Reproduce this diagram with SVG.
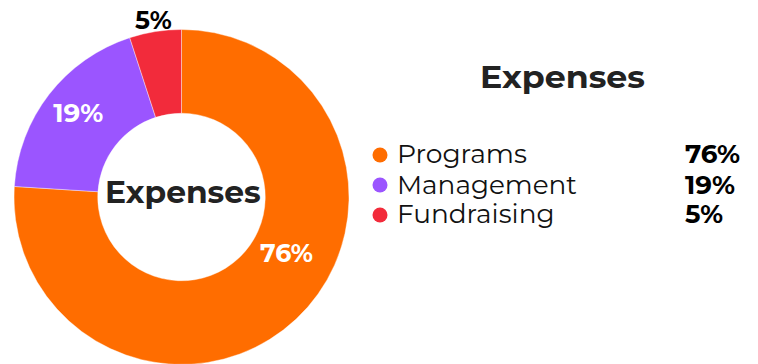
<svg xmlns="http://www.w3.org/2000/svg" width="758" height="364" viewBox="0 0 758 364">
<style>
.t{font-family:Montserrat,Inter,"Open Sans","Liberation Sans",sans-serif}
.b{font-weight:700}
.dark{fill:#222}
.blk{fill:#000}
.w{fill:#fff}
.lg{font-size:26px;font-weight:400;fill:#111}
.pc{font-size:25px;font-weight:700}
.sl{stroke:#fff;stroke-width:0.4}
</style>
<rect width="758" height="364" fill="#fff"/>
<g id="chart">
<g id="slice-programs"><path class="sl" fill="#FF6D00" d="M181.5,29.5 A167.5,167.5 0 1 1 14.33,186.48 L97.91,191.74 A83.75,83.75 0 1 0 181.5,113.25 Z"/></g>
<g id="slice-management"><path class="sl" fill="#9B55FF" d="M14.33,186.48 A167.5,167.5 0 0 1 129.74,37.70 L155.62,117.35 A83.75,83.75 0 0 0 97.91,191.74 Z"/></g>
<g id="slice-fundraising"><path class="sl" fill="#F22B3B" d="M129.74,37.70 A167.5,167.5 0 0 1 181.5,29.5 L181.5,113.25 A83.75,83.75 0 0 0 155.62,117.35 Z"/></g>
<text class="t pc w" x="260" y="262.3" textLength="53" lengthAdjust="spacingAndGlyphs">76%</text>
<text class="t pc w" x="53.3" y="121.7" textLength="50" lengthAdjust="spacingAndGlyphs">19%</text>
<text class="t pc blk" x="135" y="29.3" textLength="36.7" lengthAdjust="spacingAndGlyphs">5%</text>
<text class="t b dark" x="105" y="203.3" font-size="31" textLength="155.7" lengthAdjust="spacingAndGlyphs">Expenses</text>
</g>
<g id="legend">
<text class="t b dark" x="480" y="87.7" font-size="31" textLength="165" lengthAdjust="spacingAndGlyphs">Expenses</text>
<g id="legend-programs">
<circle cx="380" cy="155" r="7.5" fill="#FF6D00"/>
<text class="t lg" x="397" y="163.3" textLength="130" lengthAdjust="spacingAndGlyphs">Programs</text>
<text class="t pc blk" x="685" y="163.3" textLength="55" lengthAdjust="spacingAndGlyphs">76%</text>
</g>
<g id="legend-management">
<circle cx="380" cy="185" r="7.5" fill="#9B55FF"/>
<text class="t lg" x="397" y="193.5" textLength="180" lengthAdjust="spacingAndGlyphs">Management</text>
<text class="t pc blk" x="685" y="193.5" textLength="50" lengthAdjust="spacingAndGlyphs">19%</text>
</g>
<g id="legend-fundraising">
<circle cx="380" cy="215" r="7.5" fill="#F22B3B"/>
<text class="t lg" x="397" y="223.2" textLength="157.5" lengthAdjust="spacingAndGlyphs">Fundraising</text>
<text class="t pc blk" x="685" y="223.2" textLength="38" lengthAdjust="spacingAndGlyphs">5%</text>
</g>
</g>
<g id="connectors"/>
</svg>
